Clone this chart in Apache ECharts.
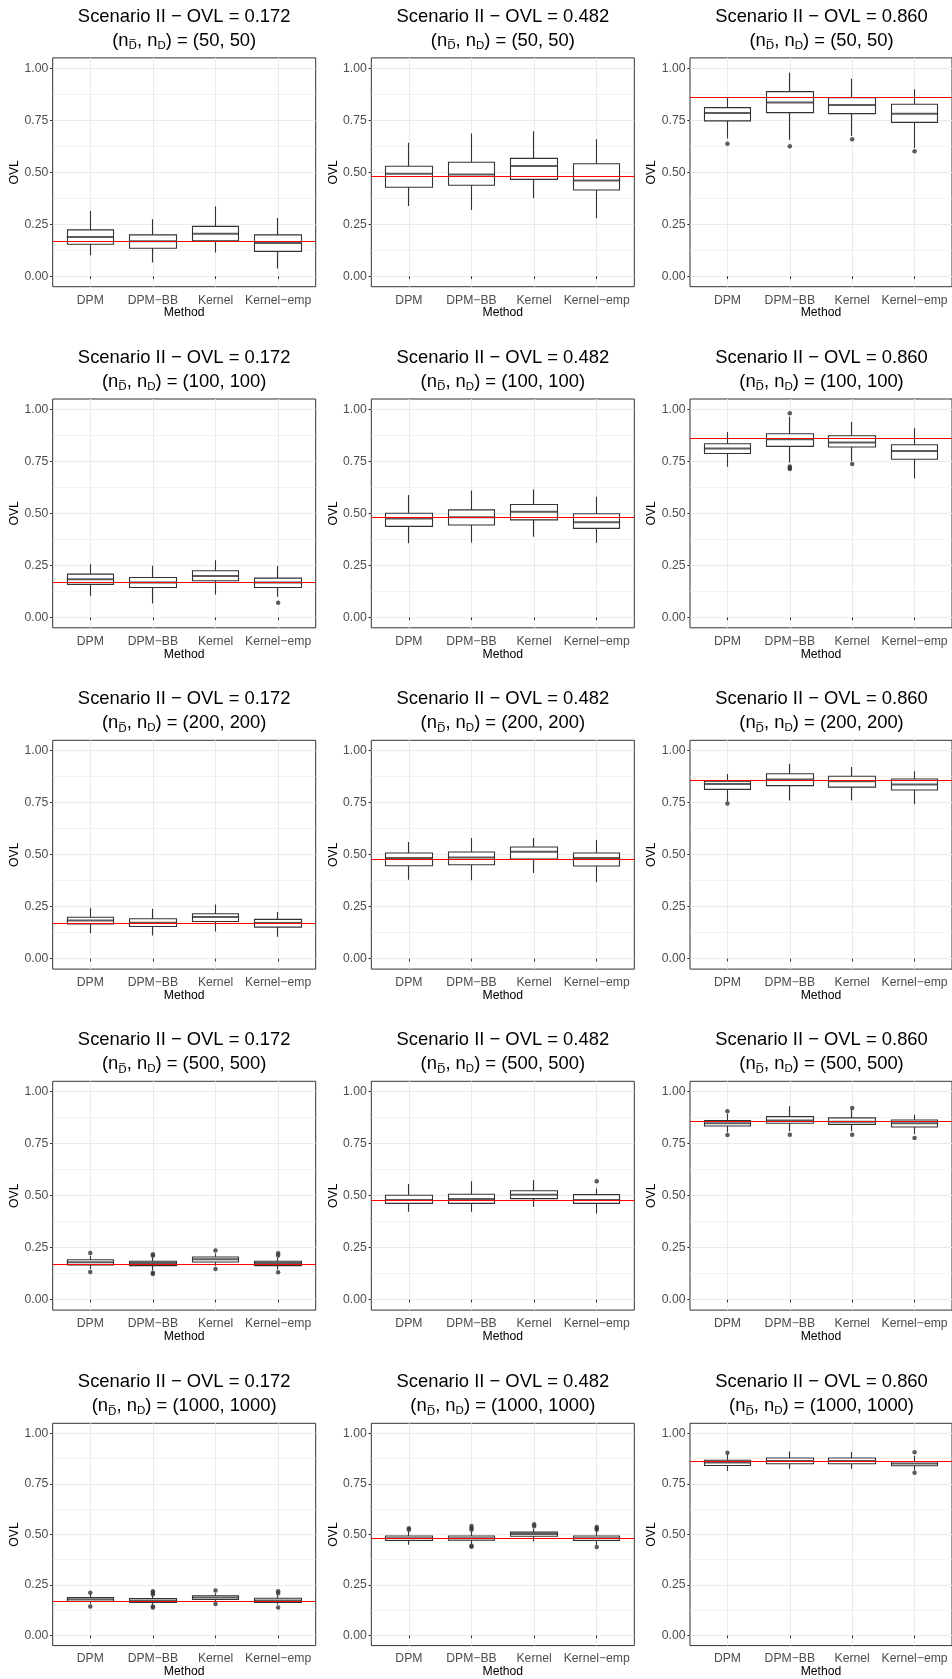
<!DOCTYPE html>
<html><head><meta charset="utf-8">
<script src="https://cdn.jsdelivr.net/npm/echarts@6/dist/echarts.min.js"></script>
<style>html,body{margin:0;padding:0;background:#fff}#c{width:952px;height:1679px}</style>
</head><body><div id="c"></div>
<script>
// ---------- data ----------
const methods = ['DPM', 'DPM\u2212BB', 'Kernel', 'Kernel\u2212emp'];
const trueOVL = [0.172, 0.482, 0.860];
const ovlLabels = ['0.172', '0.482', '0.860'];
const sampleSizes = [50, 100, 200, 500, 1000];
const yTickValues = [0, 0.25, 0.5, 0.75, 1];
const yMinorValues = [0.125, 0.375, 0.625, 0.875];

// five-number summaries per method: [lower whisker, Q1, median, Q3, upper whisker]
const box_n50_ovl172 = [[0.101, 0.154, 0.189, 0.223, 0.314], [0.066, 0.135, 0.168, 0.199, 0.274], [0.114, 0.171, 0.204, 0.240, 0.335], [0.038, 0.120, 0.160, 0.199, 0.280]];
const box_n50_ovl482 = [[0.338, 0.428, 0.493, 0.529, 0.642], [0.319, 0.4375, 0.490, 0.548, 0.687], [0.375, 0.466, 0.530, 0.567, 0.697], [0.279, 0.415, 0.460, 0.541, 0.659]];
const box_n50_ovl860 = [[0.662, 0.747, 0.785, 0.811, 0.859], [0.656, 0.787, 0.835, 0.888, 0.979], [0.675, 0.782, 0.824, 0.859, 0.950], [0.617, 0.740, 0.782, 0.827, 0.899]];
const box_n100_ovl172 = [[0.104, 0.159, 0.183, 0.208, 0.255], [0.067, 0.144, 0.168, 0.192, 0.248], [0.110, 0.176, 0.199, 0.224, 0.275], [0.099, 0.144, 0.168, 0.189, 0.247]];
const box_n100_ovl482 = [[0.356, 0.4375, 0.476, 0.501, 0.588], [0.360, 0.444, 0.481, 0.517, 0.610], [0.388, 0.469, 0.508, 0.543, 0.615], [0.359, 0.428, 0.458, 0.498, 0.580]];
const box_n100_ovl860 = [[0.724, 0.788, 0.812, 0.835, 0.891], [0.743, 0.822, 0.856, 0.883, 0.965], [0.751, 0.819, 0.841, 0.873, 0.939], [0.668, 0.760, 0.800, 0.830, 0.909]];
const box_n200_ovl172 = [[0.122, 0.167, 0.184, 0.199, 0.245], [0.111, 0.155, 0.173, 0.192, 0.240], [0.131, 0.179, 0.200, 0.216, 0.260], [0.106, 0.152, 0.172, 0.189, 0.224]];
const box_n200_ovl482 = [[0.380, 0.447, 0.484, 0.508, 0.561], [0.377, 0.452, 0.487, 0.513, 0.580], [0.412, 0.479, 0.514, 0.537, 0.580], [0.367, 0.446, 0.484, 0.508, 0.571]];
const box_n200_ovl860 = [[0.756, 0.814, 0.840, 0.853, 0.888], [0.760, 0.832, 0.861, 0.889, 0.9375], [0.760, 0.825, 0.853, 0.877, 0.922], [0.742, 0.811, 0.837, 0.864, 0.901]];
const box_n500_ovl172 = [[0.148, 0.167, 0.180, 0.192, 0.211], [0.140, 0.164, 0.176, 0.185, 0.203], [0.162, 0.181, 0.194, 0.205, 0.222], [0.145, 0.164, 0.176, 0.185, 0.203]];
const box_n500_ovl482 = [[0.423, 0.463, 0.479, 0.502, 0.556], [0.423, 0.463, 0.484, 0.507, 0.569], [0.447, 0.486, 0.505, 0.524, 0.575], [0.415, 0.463, 0.479, 0.505, 0.535]];
const box_n500_ovl860 = [[0.805, 0.835, 0.848, 0.861, 0.893], [0.810, 0.848, 0.861, 0.880, 0.930], [0.810, 0.843, 0.856, 0.874, 0.913], [0.797, 0.830, 0.848, 0.864, 0.889]];
const box_n1000_ovl172 = [[0.157, 0.168, 0.178, 0.1875, 0.203], [0.153, 0.164, 0.173, 0.183, 0.197], [0.166, 0.178, 0.1875, 0.197, 0.209], [0.153, 0.164, 0.173, 0.1845, 0.199]];
const box_n1000_ovl482 = [[0.449, 0.470, 0.481, 0.492, 0.516], [0.452, 0.471, 0.481, 0.492, 0.516], [0.465, 0.491, 0.502, 0.5115, 0.529], [0.449, 0.470, 0.481, 0.492, 0.516]];
const box_n1000_ovl860 = [[0.814, 0.841, 0.856, 0.867, 0.894], [0.8255, 0.8495, 0.864, 0.878, 0.911], [0.8255, 0.8495, 0.864, 0.878, 0.908], [0.817, 0.840, 0.851, 0.861, 0.889]];

// outlying values per method
const out_n50_ovl172 = [[], [], [], []];
const out_n50_ovl482 = [[], [], [], []];
const out_n50_ovl860 = [[0.637], [0.625], [0.659], [0.601]];
const out_n100_ovl172 = [[], [], [], [0.070]];
const out_n100_ovl482 = [[], [], [], []];
const out_n100_ovl860 = [[], [0.981, 0.725, 0.718, 0.714], [0.738], []];
const out_n200_ovl172 = [[], [], [], []];
const out_n200_ovl482 = [[], [], [], []];
const out_n200_ovl860 = [[0.746], [], [], []];
const out_n500_ovl172 = [[0.2245, 0.133], [0.219, 0.211, 0.130, 0.124], [0.236, 0.148], [0.223, 0.212, 0.132]];
const out_n500_ovl482 = [[], [], [], [0.569]];
const out_n500_ovl860 = [[0.906, 0.792], [0.793], [0.922, 0.793], [0.777]];
const out_n1000_ovl172 = [[0.2115, 0.144], [0.2195, 0.2115, 0.204, 0.144, 0.138], [0.223, 0.156], [0.2195, 0.209, 0.138]];
const out_n1000_ovl482 = [[0.531, 0.523], [0.5415, 0.532, 0.523, 0.444, 0.439], [0.550, 0.541], [0.537, 0.529, 0.523, 0.438]];
const out_n1000_ovl860 = [[0.904], [], [], [0.907, 0.805]];

const boxes = [
  [box_n50_ovl172, box_n50_ovl482, box_n50_ovl860],
  [box_n100_ovl172, box_n100_ovl482, box_n100_ovl860],
  [box_n200_ovl172, box_n200_ovl482, box_n200_ovl860],
  [box_n500_ovl172, box_n500_ovl482, box_n500_ovl860],
  [box_n1000_ovl172, box_n1000_ovl482, box_n1000_ovl860]
];
const outliers = [
  [out_n50_ovl172, out_n50_ovl482, out_n50_ovl860],
  [out_n100_ovl172, out_n100_ovl482, out_n100_ovl860],
  [out_n200_ovl172, out_n200_ovl482, out_n200_ovl860],
  [out_n500_ovl172, out_n500_ovl482, out_n500_ovl860],
  [out_n1000_ovl172, out_n1000_ovl482, out_n1000_ovl860]
];

// ---------- layout / style ----------
const FONT = '"Liberation Sans", Arial, Helvetica, sans-serif';
const colLeft = [52.7, 371.3, 690];
const colWidth = [263, 263, 264.5];
const rowTop = [57.9, 399, 740.3, 1081.3, 1423.3];
const PH = 228.8;
const BOXW = 47;
const DARK = '#333333', GRID = '#EBEBEB', LABEL = '#4D4D4D';

const option = {
  animation: false,
  backgroundColor: '#fff',
  title: [], grid: [], xAxis: [], yAxis: [], series: []
};

for (let r = 0; r < 5; r++) {
  for (let c = 0; c < 3; c++) {
    const p = r * 3 + c;
    const left = colLeft[c], top = rowTop[r], cx = left + 131.5;
    const n = sampleSizes[r];
    option.title.push({
      text: 'Scenario II \u2212 OVL = ' + ovlLabels[c],
      left: cx, top: top - 52, textAlign: 'center', padding: 0,
      textStyle: { fontFamily: FONT, fontSize: 18.4, fontWeight: 'normal', color: '#000', lineHeight: 22 }
    });
    option.title.push({
      text: '(n{b|D\u0305}, n{s|D}) = (' + n + ', ' + n + ')',
      left: cx, top: top - 28, textAlign: 'center', padding: 0,
      textStyle: {
        fontFamily: FONT, fontSize: 18.4, fontWeight: 'normal', color: '#000', lineHeight: 22,
        rich: {
          s: { fontFamily: FONT, fontSize: 11.5, lineHeight: 11, verticalAlign: 'bottom', color: '#000' },
          b: { fontFamily: '"DejaVu Sans", sans-serif', fontSize: 11, lineHeight: 11, verticalAlign: 'bottom', color: '#000' }
        }
      }
    });
    option.grid.push({
      left: left, top: top, width: colWidth[c], height: PH,
      show: true, borderColor: DARK, borderWidth: 1, backgroundColor: 'transparent'
    });
    option.xAxis.push({
      type: 'value', gridIndex: p, min: 0.4, max: 4.6,
      name: 'Method', nameLocation: 'middle', nameGap: 19.5,
      nameTextStyle: { fontFamily: FONT, fontSize: 12.2, color: '#000' },
      axisLine: { show: false },
      axisTick: { show: true, length: 2.7, customValues: [1, 2, 3, 4], lineStyle: { color: DARK, width: 1 } },
      axisLabel: { show: true, margin: 7.5, customValues: [1, 2, 3, 4], fontFamily: FONT, fontSize: 12.2, color: LABEL,
        formatter: v => methods[Math.round(v) - 1] },
      splitLine: { show: true, lineStyle: { color: GRID, width: 1.1 } }
    });
    option.yAxis.push({
      type: 'value', gridIndex: p, min: -0.05, max: 1.05, position: 'left',
      name: 'OVL', nameLocation: 'middle', nameGap: 30, nameRotate: 90,
      nameTextStyle: { fontFamily: FONT, fontSize: 12.2, color: '#000' },
      axisLine: { show: false },
      axisTick: { show: true, length: 2.7, customValues: yTickValues, lineStyle: { color: DARK, width: 1 } },
      axisLabel: { show: true, margin: 4.5, customValues: yTickValues, fontFamily: FONT, fontSize: 12.2, color: LABEL,
        formatter: v => v.toFixed(2) },
      splitLine: { show: true, lineStyle: { color: GRID, width: 1.1 } }
    });
    option.yAxis.push({
      type: 'value', gridIndex: p, min: -0.05, max: 1.05, position: 'left',
      axisLine: { show: false },
      axisTick: { show: false, customValues: yMinorValues },
      axisLabel: { show: false, customValues: yMinorValues },
      splitLine: { show: true, lineStyle: { color: GRID, width: 0.6 } }
    });

    const b = boxes[r][c];
    option.series.push({
      type: 'candlestick', xAxisIndex: p, yAxisIndex: 2 * p, silent: true,
      barWidth: BOXW,
      emphasis: { disabled: true },
      itemStyle: { color: '#fff', color0: '#fff', borderColor: DARK, borderColor0: DARK, borderColorDoji: DARK, borderWidth: 1.1 },
      data: b.map((s, i) => [i + 1, s[1], s[3], s[0], s[4]]),
      markLine: {
        silent: true, symbol: ['none', 'none'], label: { show: false },
        lineStyle: { color: '#FF0000', width: 1.2, type: 'solid' },
        emphasis: { disabled: true },
        data: [{ yAxis: trueOVL[c] }]
      }
    });
    option.series.push({
      type: 'scatter', xAxisIndex: p, yAxisIndex: 2 * p, silent: true,
      symbol: 'rect', symbolSize: [BOXW, 2], itemStyle: { color: DARK }, z: 3,
      data: b.map((s, i) => [i + 1, s[2]])
    });
    const pts = [];
    outliers[r][c].forEach((arr, i) => arr.forEach(v => pts.push([i + 1, v])));
    option.series.push({
      type: 'scatter', xAxisIndex: p, yAxisIndex: 2 * p, silent: true,
      symbol: 'circle', symbolSize: 4.5, itemStyle: { color: DARK }, z: 3,
      data: pts
    });
  }
}

const chart = echarts.init(document.getElementById('c'), null, { renderer: 'canvas' });
chart.setOption(option);
</script>
</body></html>
